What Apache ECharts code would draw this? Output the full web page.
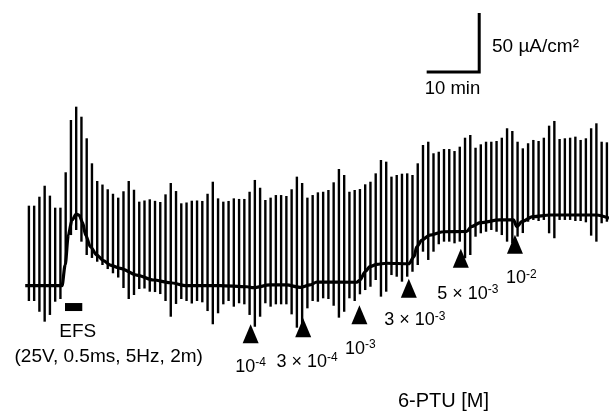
<!DOCTYPE html>
<html>
<head>
<meta charset="utf-8">
<script src="https://cdn.jsdelivr.net/npm/echarts@6/dist/echarts.min.js"></script>
<style>
html,body{margin:0;padding:0;background:#fff;}
#chart{width:609px;height:413px;}
</style>
</head>
<body>
<div id="chart"></div>
<script>
// ---- Data (time in minutes, current in µA/cm², relative to pre-EFS baseline) ----
// One pulse per minute; top and bottom of each pulse deflection
var pulseTop = [
  68.2, 68.2, 75.8, 85.1, 76.7, 66.5, 66.5, 96.5, 140.8, 152.1,
  143.6, 125.3, 104.1, 89.1, 86.1, 82.1, 78.3, 75.0, 80.4, 89.1,
  81.7, 71.6, 72.6, 73.6, 72.3, 71.3, 77.8, 87.4, 80.6, 70.2,
  70.9, 72.4, 72.6, 72.2, 78.3, 88.5, 74.4, 71.6, 72.2, 74.4,
  73.9, 73.9, 80.0, 90.0, 83.4, 73.0, 75.0, 77.2, 77.2, 76.4,
  82.1, 92.8, 87.4, 75.0, 77.2, 79.5, 80.0, 81.5, 88.0, 99.3,
  94.2, 80.0, 81.5, 82.3, 86.3, 88.5, 95.6, 106.9, 105.5, 92.8,
  94.2, 95.3, 95.6, 94.2, 104.1, 119.6, 122.4, 112.6, 113.9, 116.2,
  116.2, 114.5, 118.2, 125.8, 128.1, 117.3, 120.2, 122.4, 122.4, 123.0,
  125.8, 133.8, 131.5, 122.4, 116.8, 121.1, 123.9, 123.0, 125.8, 136.0,
  140.0, 124.7, 125.3, 125.8, 126.7, 123.9, 125.3, 133.8, 138.0, 122.4, 121.9
];
var pulseBottom = [
  -12.6, -12.6, -21.7, -30.1, -24.4, -13.2, -10.9, 20.5, 43.3, 47.6,
  37.7, 26.4, 23.9, 20.7, 17.9, 14.5, 10.9, 7.3, -1.6, -10.9,
  -7.5, -2.4, -2.0, -4.7, -5.0, -6.7, -12.6, -25.9, -15.1, -10.9,
  -12.6, -14.7, -12.6, -13.7, -21.1, -32.3, -23.0, -15.4, -12.6, -17.4,
  -14.5, -15.4, -24.4, -34.4, -25.9, -14.5, -17.4, -15.4, -15.4, -15.4,
  -23.9, -35.2, -35.7, -18.8, -12.6, -13.2, -10.3, -10.9, -16.6, -26.7,
  -21.7, -10.3, -12.6, -6.9, -3.3, -0.5, 5.2, -8.9, -4.7, 9.4,
  8.0, 3.8, 8.0, 12.2, 17.9, 29.2, 22.2, 29.2, 35.5, 37.7,
  37.7, 36.3, 37.7, 23.6, 26.4, 41.9, 44.8, 46.1, 47.6, 46.1,
  43.3, 37.7, 36.3, 42.0, 45.0, 54.6, 56.1, 55.2, 56.1, 44.8,
  40.6, 56.1, 56.1, 56.1, 55.2, 55.2, 54.1, 42.8, 37.7, 53.3, 54.6
];
// Baseline (mean) current trace: minute, current
var traceMinute = [-0.7, 6.3, 6.9, 7.5, 8.2, 9.0, 9.6, 10.2, 10.8, 11.7, 12.9, 14.2, 15.5, 17.4, 20.5, 23.7, 26.9, 30, 36.4, 41.5, 42.7, 45.9, 49, 51.6, 53.5, 54.8, 62.4, 63, 64, 64.9, 66.2, 68, 72.3, 73.3, 73.8, 74.8, 76.3, 78.8, 83.3, 84.2, 85.9, 89.6, 92.2, 92.9, 93.8, 95.9, 99.2, 108, 110.4];
var traceCurrent = [0.4, 0.4, 17.9, 43.3, 56, 61, 60, 54, 43.3, 33.4, 26.4, 21.6, 17.9, 15.1, 9.4, 5.2, 2.9, 0.4, 0.4, -0.5, -1.3, 1.0, 1.0, -1.0, 1.0, 3.5, 3.3, 5.2, 12.2, 16.5, 18.5, 19.4, 19.0, 25.0, 33.4, 39.1, 43.3, 46.1, 46.3, 50.4, 53.8, 56.1, 56.1, 50.4, 54.6, 58.9, 60.3, 60.3, 57.5];
// EFS stimulation period (minutes)
var efsStart = 6.87, efsEnd = 10.16, efsLevel = -17.7;
// 6-PTU additions
var doseMinute = [42.2, 52.2, 62.9, 72.3, 82.2, 92.5];
var doseMarkerLevel = [-40.4, -35.2, -24.2, -1.8, 23.6, 35.5];
var doseCoef = ['', '3 \u00d7 ', '', '3 \u00d7 ', '5 \u00d7 ', ''];
var doseExp = ['-4', '-4', '-3', '-3', '-3', '-2'];
// Scale bar: corner position and lengths
var scaleCorner = [85.7, 181.5];
var scaleMinutes = 10, scaleCurrent = 50;

// ---- Build ----
var FONT = 'Liberation Sans, Arial, Helvetica, sans-serif';
var INK = '#000';
var pulses = pulseTop.map(function (t, i) { return [i, pulseBottom[i], t]; });
var trace = traceMinute.map(function (m, i) { return [m, traceCurrent[i]]; });
var labelOffsets = [[0, 33], [4, 34], [1, 34], [6, 32], [7, 35.5], [6.5, 34]];
var doses = doseMinute.map(function (m, i) {
  return {
    value: [m, doseMarkerLevel[i]],
    label: {
      offset: labelOffsets[i],
      formatter: '{n|' + doseCoef[i] + '10}{s|' + doseExp[i] + '}'
    }
  };
});

var chart = echarts.init(document.getElementById('chart'), null, { renderer: 'canvas' });
chart.setOption({
  animation: false,
  backgroundColor: '#fff',
  grid: { left: 0, right: 0, top: 0, bottom: 0 },
  xAxis: { type: 'value', min: -5.5, max: 110.4, show: false },
  yAxis: { type: 'value', min: -107.5, max: 242.5, show: false },
  series: [
    {
      type: 'custom',
      name: 'pulses',
      data: pulses,
      encode: { x: 0, y: [1, 2] },
      z: 2,
      renderItem: function (params, api) {
        var p1 = api.coord([api.value(0), api.value(1)]);
        var p2 = api.coord([api.value(0), api.value(2)]);
        return {
          type: 'line',
          shape: { x1: p1[0], y1: p1[1], x2: p2[0], y2: p2[1] },
          style: { stroke: INK, lineWidth: 2.4 }
        };
      }
    },
    {
      type: 'line',
      name: 'trace',
      data: trace,
      z: 3,
      showSymbol: false,
      smooth: 0.3,
      smoothMonotone: 'x',
      lineStyle: { color: INK, width: 3.2 }
    },
    {
      type: 'line',
      name: 'EFS',
      data: [[efsStart, efsLevel], [efsEnd, efsLevel]],
      z: 3,
      showSymbol: false,
      lineStyle: { color: INK, width: 8, cap: 'butt' }
    },
    {
      type: 'scatter',
      name: '6-PTU',
      data: doses,
      z: 4,
      symbol: 'triangle',
      symbolSize: [16, 19],
      itemStyle: { color: INK, opacity: 1 },
      label: {
        show: true,
        position: 'inside',
        align: 'center',
        verticalAlign: 'middle',
        color: INK,
        opacity: 1,
        textBorderWidth: 0,
        rich: {
          n: { fontSize: 18, lineHeight: 20, fontFamily: FONT, color: INK },
          s: { fontSize: 12, lineHeight: 12, fontFamily: FONT, color: INK, verticalAlign: 'top' }
        }
      }
    },
    {
      type: 'line',
      name: 'scale',
      data: [
        [scaleCorner[0] - scaleMinutes, scaleCorner[1]],
        [scaleCorner[0], scaleCorner[1]],
        [scaleCorner[0], scaleCorner[1] + scaleCurrent]
      ],
      z: 3,
      showSymbol: false,
      lineStyle: { color: INK, width: 3, cap: 'butt', join: 'miter' }
    }
  ],
  graphic: [
    { type: 'text', x: 492, y: 47, style: { text: '50 \u00b5A/cm\u00b2', fontSize: 19, fontFamily: FONT, fill: INK, align: 'left', verticalAlign: 'middle' } },
    { type: 'text', x: 452.5, y: 89, style: { text: '10 min', fontSize: 18.5, fontFamily: FONT, fill: INK, align: 'center', verticalAlign: 'middle' } },
    { type: 'text', x: 77.7, y: 332, style: { text: 'EFS', fontSize: 19, fontFamily: FONT, fill: INK, align: 'center', verticalAlign: 'middle' } },
    { type: 'text', x: 108.7, y: 356.5, style: { text: '(25V, 0.5ms, 5Hz, 2m)', fontSize: 19, fontFamily: FONT, fill: INK, align: 'center', verticalAlign: 'middle' } },
    { type: 'text', x: 443.5, y: 401.5, style: { text: '6-PTU [M]', fontSize: 20, fontFamily: FONT, fill: INK, align: 'center', verticalAlign: 'middle' } }
  ]
});
</script>
</body>
</html>
